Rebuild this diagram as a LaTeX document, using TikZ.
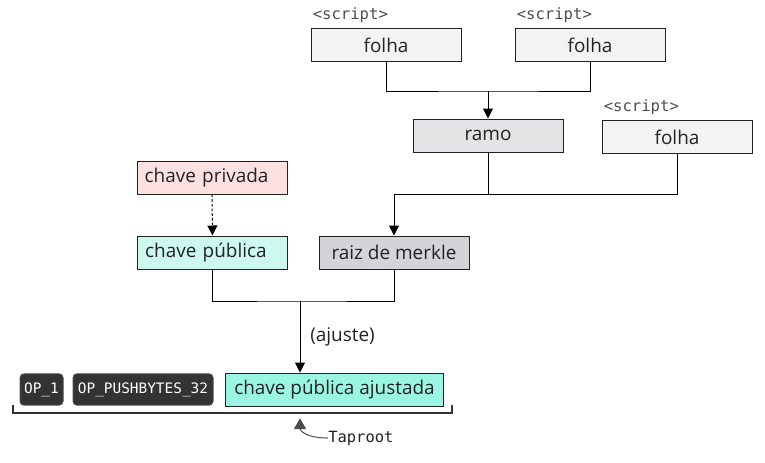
\documentclass[tikz,border=0pt]{standalone}
\usepackage{fontspec}
\setmainfont{Open Sans}
\setmonofont{DejaVu Sans Mono}
\usetikzlibrary{arrows.meta}
\definecolor{folhafill}{HTML}{F3F3F3}
\definecolor{ramofill}{HTML}{E4E4E6}
\definecolor{merklefill}{HTML}{D4D4D8}
\definecolor{privfill}{HTML}{FDE1E1}
\definecolor{pubfill}{HTML}{CCF8ED}
\definecolor{ajfill}{HTML}{9AF5E2}
\definecolor{opfill}{HTML}{333333}
\definecolor{inkcol}{HTML}{222222}
\begin{document}
\begin{tikzpicture}[
    x=0.75pt, y=-0.75pt,
    every node/.style={text=inkcol},
    box/.style={draw=inkcol, line width=0.75pt, minimum width=112.5pt, minimum height=24.75pt,
      inner sep=0pt, font=\fontsize{14.2}{16}\selectfont},
    opbox/.style={draw=black!70, fill=opfill, rounded corners=3pt, line width=0.75pt,
      minimum height=23.5pt, inner sep=0pt, text=white, font=\ttfamily\fontsize{10.8}{12}\selectfont},
    tag/.style={anchor=west, inner sep=0pt, text=inkcol!80, font=\ttfamily\fontsize{11.7}{13}\selectfont},
    link/.style={draw=black, line width=0.75pt},
    arrow/.style={link, -{Triangle[length=7.5pt, width=7.5pt]}}
  ]
    \useasboundingbox (0,0) rectangle (765,462);

    % Leaves
    \node[box, fill=folhafill] (folhaA) at (386,45) {folha};
    \node[box, fill=folhafill] (folhaB) at (590,45) {folha};
    \node[box, fill=folhafill] (folhaC) at (677,137) {folha};
    \foreach \n in {folhaA,folhaB,folhaC}
      \node[tag] at ([xshift=1.5pt, yshift=9.5pt]\n.north west) {<script>};

    % Branch and root
    \node[box, fill=ramofill] (ramo) at (488,135.5) {ramo};
    \node[box, fill=merklefill] (merkle) at (394,252.5) {raiz de merkle};

    % Keys
    \node[box, fill=privfill, align=left, text width=101pt] (privada) at (212,177.5) {chave privada};
    \node[box, fill=pubfill, align=left, text width=101pt] (publica) at (212.5,252.5) {chave pública};
    \node[box, fill=ajfill, minimum width=163pt] (ajustada) at (334.5,389.5) {chave pública ajustada};

    % Script ops
    \node[opbox, minimum width=32.25pt] (opum) at (41.5,389.5) {OP\_1};
    \node[opbox, minimum width=105pt] (oppush) at (143,389.5) {OP\_PUSHBYTES\_32};

    % Connections
    \coordinate (j1) at (488,91);
    \coordinate (j2) at (394,194);
    \coordinate (j3) at (300,301);
    \draw[link] (folhaA.south) |- (j1) -| (folhaB.south);
    \draw[arrow] (j1) -- (ramo.north);
    \draw[link] (ramo.south) |- (j2);
    \draw[link] (folhaC.south) |- (j2);
    \draw[arrow] (j2) -- (merkle.north);
    \draw[arrow, dash pattern=on 2pt off 1.5pt] (privada.south) -- (publica.north);
    \draw[link] (publica.south) |- (j3) -| (merkle.south);
    \draw[arrow] (j3) -- node[right, xshift=4pt, font=\fontsize{14.2}{16}\selectfont] (ajuste) {(ajuste)} (j3 |- ajustada.north);

    % Brace and label
    \coordinate (brace) at (300,413);
    \draw[line width=1.2pt, draw=black!80] (13,405) -- (13,413) -- (452,413) -- (452,405);
    \node[anchor=west, inner sep=0pt, font=\ttfamily\fontsize{11.6}{13}\selectfont] (taproot) at (328,438) {Taproot};
    \draw[draw=black!70, line width=0.75pt, -{Triangle[length=8pt, width=9pt]}]
      (taproot.west) .. controls (305,438) and (300,430) .. ([yshift=-4pt]brace);

\end{tikzpicture}
\end{document}
